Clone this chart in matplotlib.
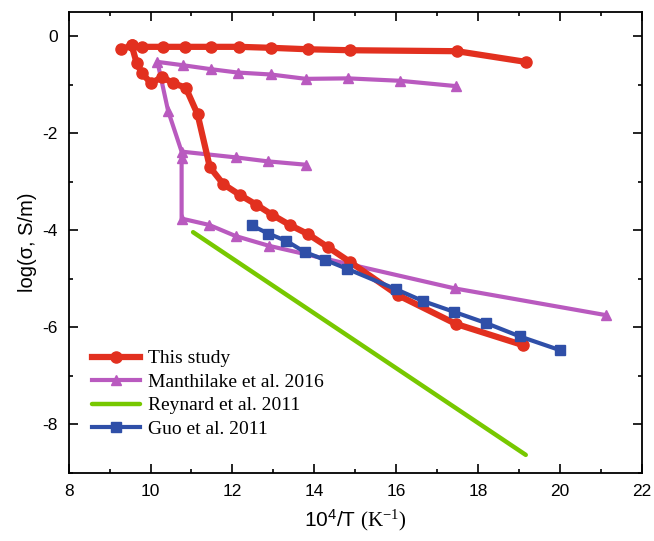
import matplotlib.pyplot as plt
from matplotlib.ticker import MultipleLocator

# This study (upper branch right->left, then lower branch)
study_up_x = [19.17, 17.49, 14.87, 13.84, 12.94, 12.17, 11.47, 10.84, 10.30, 9.78, 9.54, 9.29]
study_up_y = [-0.53, -0.31, -0.29, -0.27, -0.24, -0.22, -0.22, -0.22, -0.22, -0.22, -0.19, -0.27]
study_low_x = [9.54, 9.66, 9.78, 10.01, 10.29, 10.55, 10.86, 11.15, 11.45, 11.78, 12.18,
               12.58, 12.97, 13.40, 13.85, 14.34, 14.87, 16.05, 17.46, 19.11]
study_low_y = [-0.19, -0.55, -0.75, -0.97, -0.84, -0.97, -1.06, -1.61, -2.70, -3.05, -3.27,
               -3.47, -3.68, -3.89, -4.08, -4.35, -4.65, -5.34, -5.93, -6.37]

# Manthilake et al. 2016
mant1_x = [17.47, 16.10, 14.83, 13.80, 12.94, 12.13, 11.47, 10.80, 10.17, 10.43, 10.76, 12.10, 12.86, 13.80]
mant1_y = [-1.03, -0.92, -0.87, -0.88, -0.79, -0.75, -0.68, -0.60, -0.53, -1.54, -2.38, -2.50, -2.58, -2.65]
mant2_x = [10.76, 10.76, 11.43, 12.08, 12.89, 17.44, 21.13]
mant2_y = [-2.52, -3.76, -3.89, -4.12, -4.32, -5.20, -5.75]

# Reynard et al. 2011
rey_x = [11.04, 19.17]
rey_y = [-4.04, -8.63]

# Guo et al. 2011
guo_x = [12.47, 12.88, 13.32, 13.77, 14.26, 14.79, 16.01, 16.66, 17.41, 18.19, 19.03, 20.0]
guo_y = [-3.90, -4.07, -4.22, -4.45, -4.61, -4.79, -5.22, -5.46, -5.68, -5.91, -6.19, -6.47]

red = '#E2301F'
purple = '#B95ABF'
green = '#77C800'
blue = '#2F4FA8'

plt.rcParams['font.family'] = ['Liberation Sans', 'DejaVu Sans']
plt.rcParams['axes.unicode_minus'] = False
plt.rcParams['mathtext.fontset'] = 'custom'
plt.rcParams['mathtext.rm'] = 'Liberation Serif'
plt.rcParams['mathtext.default'] = 'regular'

fig = plt.figure(figsize=(6.54, 5.41), dpi=100)
ax = fig.add_axes([0.105, 0.126, 0.876, 0.852])

ax.plot(rey_x, rey_y, color=green, lw=3.2, solid_capstyle='round', label='Reynard et al. 2011', zorder=2)
ax.plot(mant1_x, mant1_y, color=purple, lw=3, marker='^', ms=7, label='Manthilake et al. 2016', zorder=3)
ax.plot(mant2_x, mant2_y, color=purple, lw=3, marker='^', ms=7, zorder=3)
ax.plot(study_up_x, study_up_y, color=red, lw=4.5, marker='o', ms=8, label='This study', zorder=4)
ax.plot(study_low_x, study_low_y, color=red, lw=4.5, marker='o', ms=8, zorder=4)
ax.plot(guo_x, guo_y, color=blue, lw=3, marker='s', ms=7, label='Guo et al. 2011', zorder=5)

ax.set_xlim(8, 22)
ax.set_ylim(-9, 0.5)
ax.xaxis.set_major_locator(MultipleLocator(2))
ax.xaxis.set_minor_locator(MultipleLocator(1))
ax.yaxis.set_major_locator(MultipleLocator(2))
ax.yaxis.set_minor_locator(MultipleLocator(1))
ax.tick_params(which='both', direction='in', top=True, right=True, labelsize=12.5, width=1.2, pad=8)
ax.tick_params(which='major', length=6.5)
ax.tick_params(which='minor', length=3)
for s in ax.spines.values():
    s.set_linewidth(1.3)

ax.set_xlabel('10$^4$/T $\\mathrm{(K^{-1})}$', fontsize=15, labelpad=6)
ax.set_ylabel('log(σ, S/m)', fontsize=14.5, labelpad=4)

handles, labels = ax.get_legend_handles_labels()
order = [2, 1, 0, 3]
ax.legend([handles[i] for i in order], [labels[i] for i in order], loc='lower left',
          bbox_to_anchor=(0.011, 0.038), frameon=False, numpoints=1, handlelength=2.45,
          handletextpad=0.4, labelspacing=0.3, prop={'family': 'Liberation Serif', 'size': 14})

fig.savefig('out.png', dpi=100)
